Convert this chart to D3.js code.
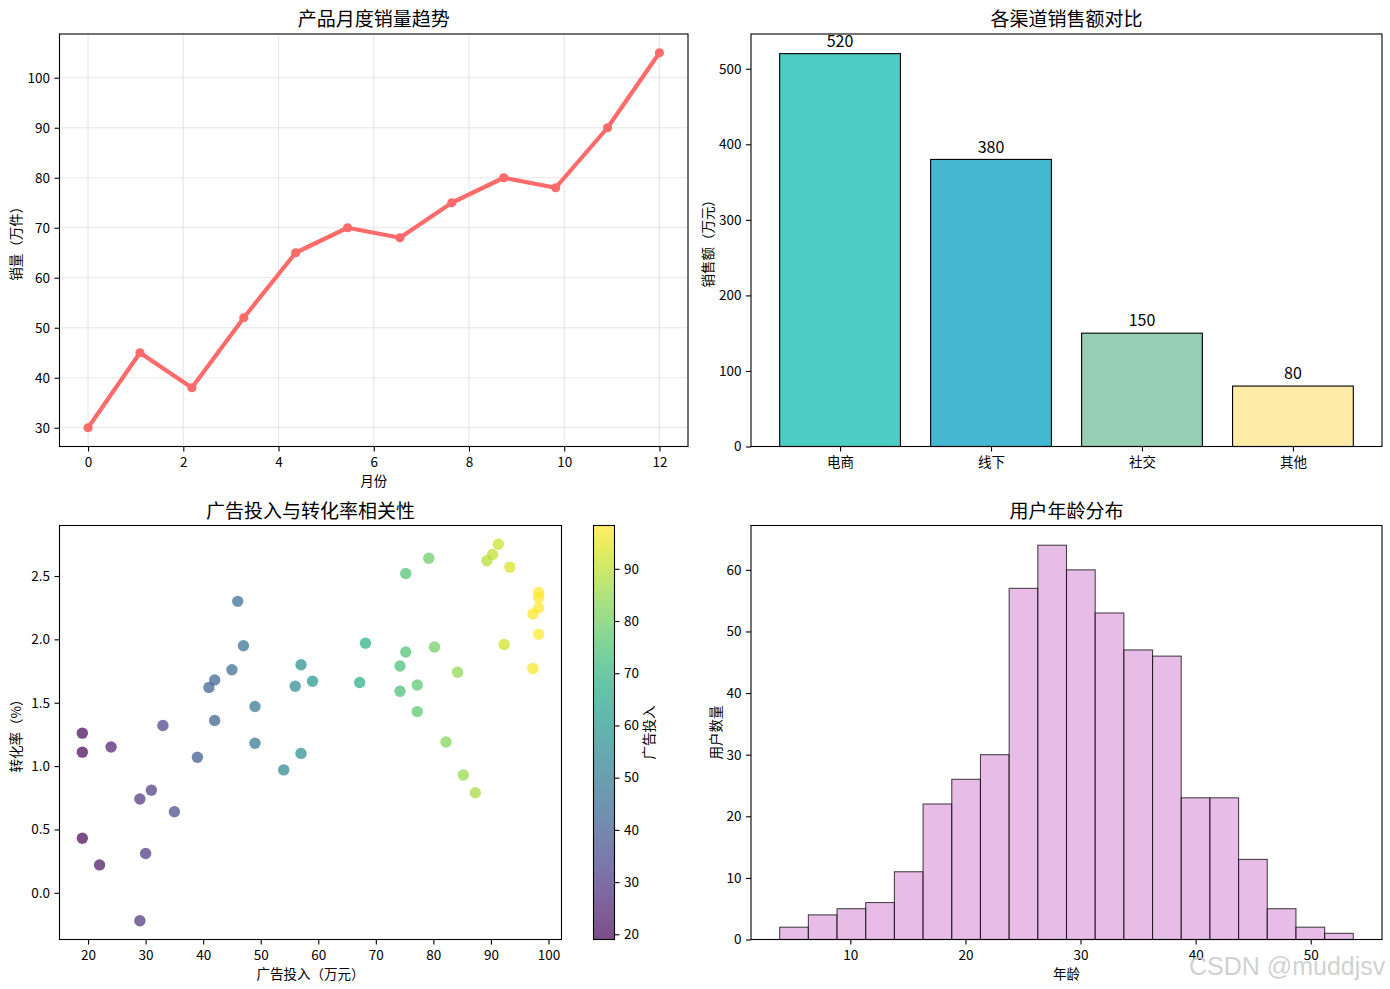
<!DOCTYPE html>
<html>
<head>
<meta charset="utf-8">
<script src="https://cdn.jsdelivr.net/npm/d3@7.9.0/dist/d3.min.js"></script>
<style>
  body { margin: 0; background: #fff; }
  svg text { font-family: 'Noto Sans CJK SC', 'Noto Sans', sans-serif; fill: #000; }
</style>
</head>
<body>
<svg id="fig" width="1390" height="989"></svg>
<script>
// --- monthly sales (top left)
const monthX = [0, 1.09, 2.18, 3.27, 4.36, 5.45, 6.55, 7.64, 8.73, 9.82, 10.91, 12];
const monthSales = [30, 45, 38, 52, 65, 70, 68, 75, 80, 78, 90, 105];
const monthTicks = [0, 2, 4, 6, 8, 10, 12];
const salesTicks = [30, 40, 50, 60, 70, 80, 90, 100];

// --- channel revenue (top right)
const channels = ['电商', '线下', '社交', '其他'];
const channelSales = [520, 380, 150, 80];
const channelColors = ['#4ECDC4', '#45B7D1', '#96CEB4', '#FFEAA7'];
const revenueTicks = [0, 100, 200, 300, 400, 500];

// --- ad spend vs conversion (bottom left)
const adSpend = [46, 47, 45, 42, 41, 57, 56, 59, 49, 42, 33, 19, 19, 24, 49, 39, 57, 54, 31, 29,
                 35, 19, 30, 22, 29, 91.3, 90.3, 89.3, 93.3, 79.2, 75.2, 98.3, 98.3, 98.3, 97.3, 98.3, 92.3, 97.3, 68.2, 75.2,
                 80.2, 74.2, 67.2, 84.2, 77.2, 74.2, 77.2, 82.2, 85.2, 87.3];
const conversion = [2.30, 1.95, 1.76, 1.68, 1.62, 1.80, 1.63, 1.67, 1.47, 1.36, 1.32, 1.26, 1.11, 1.15, 1.18, 1.07, 1.10, 0.97, 0.81, 0.74,
                    0.64, 0.43, 0.31, 0.22, -0.22, 2.75, 2.67, 2.62, 2.57, 2.64, 2.52, 2.37, 2.33, 2.25, 2.20, 2.04, 1.96, 1.77, 1.97, 1.90,
                    1.94, 1.79, 1.66, 1.74, 1.64, 1.59, 1.43, 1.19, 0.93, 0.79];
const adTicks = [20, 30, 40, 50, 60, 70, 80, 90, 100];
const convTicks = [0, 0.5, 1.0, 1.5, 2.0, 2.5];
const cbarTicks = [20, 30, 40, 50, 60, 70, 80, 90];

// --- age histogram (bottom right)
const ageBinStart = 3.86;
const ageBinWidth = 2.492;
const ageCounts = [2, 4, 5, 6, 11, 22, 26, 30, 57, 64, 60, 53, 47, 46, 23, 23, 13, 5, 2, 1];
const ageTicks = [10, 20, 30, 40, 50];
const countTicks = [0, 10, 20, 30, 40, 50, 60];

const svg = d3.select('#fig');
svg.append('rect').attr('width', 1390).attr('height', 989).attr('fill', '#fff');

const TICK = 13.5;

// matplotlib-like 5% padding
function pad(lo, hi, frac = 0.05) {
  const m = (hi - lo) * frac;
  return [lo - m, hi + m];
}

function styleAxis(g) {
  g.select('.domain').remove();
  g.selectAll('.tick line').attr('stroke', '#000').attr('stroke-width', 1.1);
  g.selectAll('.tick text').attr('font-size', TICK).attr('fill', '#000');
}

function drawAxes(box, x, y, opts) {
  const g = svg.append('g');
  g.append('g')
    .attr('transform', `translate(0,${box.bottom})`)
    .call(d3.axisBottom(x).tickValues(opts.xTicks).tickFormat(opts.xFormat || (d => d))
      .tickSize(5).tickSizeOuter(0).tickPadding(5.5))
    .call(styleAxis);
  g.append('g')
    .attr('transform', `translate(${box.left},0)`)
    .call(d3.axisLeft(y).tickValues(opts.yTicks).tickFormat(opts.yFormat || (d => d))
      .tickSize(5).tickSizeOuter(0).tickPadding(4.5))
    .call(styleAxis);
  return g;
}

function frame(box) {
  svg.append('rect')
    .attr('x', box.left).attr('y', box.top)
    .attr('width', box.right - box.left).attr('height', box.bottom - box.top)
    .attr('fill', 'none').attr('stroke', '#000').attr('stroke-width', 1.1);
}

function labels(box, title, xlabel, ylabel, ylabelX) {
  const cx = (box.left + box.right) / 2;
  svg.append('text').attr('x', cx).attr('y', box.top - 8)
    .attr('text-anchor', 'middle').attr('font-size', 19).text(title);
  if (xlabel) {
    svg.append('text').attr('x', cx).attr('y', box.bottom + 39.5)
      .attr('text-anchor', 'middle').attr('font-size', 13.5).text(xlabel);
  }
  if (ylabel) {
    const cy = (box.top + box.bottom) / 2;
    svg.append('text')
      .attr('transform', `translate(${ylabelX},${cy}) rotate(-90)`)
      .attr('text-anchor', 'middle').attr('dy', '0.35em')
      .attr('font-size', 13.5).text(ylabel);
  }
}

// ---------- top left: line ----------
function renderLine() {
  const box = { left: 59.5, right: 688, top: 34, bottom: 446.5 };
  const x = d3.scaleLinear().domain(pad(d3.min(monthX), d3.max(monthX))).range([box.left, box.right]);
  const y = d3.scaleLinear().domain(pad(d3.min(monthSales), d3.max(monthSales))).range([box.bottom, box.top]);

  const grid = svg.append('g').attr('stroke', '#b0b0b0').attr('stroke-opacity', 0.3).attr('stroke-width', 1.1);
  grid.selectAll('.gx').data(monthTicks).join('line')
    .attr('x1', d => x(d)).attr('x2', d => x(d)).attr('y1', box.top).attr('y2', box.bottom);
  grid.selectAll('.gy').data(salesTicks).join('line')
    .attr('y1', d => y(d)).attr('y2', d => y(d)).attr('x1', box.left).attr('x2', box.right);

  const pts = monthX.map((m, i) => [m, monthSales[i]]);
  svg.append('path')
    .attr('d', d3.line().x(d => x(d[0])).y(d => y(d[1]))(pts))
    .attr('fill', 'none').attr('stroke', '#FF6B6B').attr('stroke-width', 4.2)
    .attr('stroke-linejoin', 'round').attr('stroke-linecap', 'round');
  svg.append('g').selectAll('circle').data(pts).join('circle')
    .attr('cx', d => x(d[0])).attr('cy', d => y(d[1])).attr('r', 4.6)
    .attr('fill', '#FF6B6B');

  drawAxes(box, x, y, { xTicks: monthTicks, yTicks: salesTicks });
  frame(box);
  labels(box, '产品月度销量趋势', '月份', '销量（万件）', 16);
}

// ---------- top right: bars ----------
function renderBars() {
  const box = { left: 751, right: 1382, top: 34, bottom: 446.5 };
  const x = d3.scaleLinear().domain(pad(-0.4, channels.length - 1 + 0.4)).range([box.left, box.right]);
  const y = d3.scaleLinear().domain([0, d3.max(channelSales) * 1.05]).range([box.bottom, box.top]);
  const bw = 0.8;

  const g = svg.append('g');
  g.selectAll('rect').data(channelSales).join('rect')
    .attr('x', (d, i) => x(i - bw / 2))
    .attr('width', x(bw) - x(0))
    .attr('y', d => y(d))
    .attr('height', d => y(0) - y(d))
    .attr('fill', (d, i) => channelColors[i])
    .attr('stroke', '#000').attr('stroke-width', 1.1);

  g.selectAll('text').data(channelSales).join('text')
    .attr('x', (d, i) => x(i))
    .attr('y', d => y(d + 5) - 3)
    .attr('text-anchor', 'middle').attr('font-size', 16)
    .text(d => d);

  drawAxes(box, x, y, {
    xTicks: d3.range(channels.length), xFormat: i => channels[i],
    yTicks: revenueTicks
  });
  frame(box);
  labels(box, '各渠道销售额对比', null, '销售额（万元）', 708);
}

// ---------- bottom left: scatter + colorbar ----------
function renderScatter() {
  const box = { left: 59.5, right: 561.5, top: 525.5, bottom: 939.5 };
  const x = d3.scaleLinear().domain(pad(d3.min(adSpend), d3.max(adSpend))).range([box.left, box.right]);
  const y = d3.scaleLinear().domain(pad(d3.min(conversion), d3.max(conversion))).range([box.bottom, box.top]);
  const cExt = d3.extent(adSpend);
  const color = d3.scaleSequential(d3.interpolateViridis).domain(cExt);

  const pts = adSpend.map((a, i) => [a, conversion[i]]);
  svg.append('g').selectAll('circle').data(pts).join('circle')
    .attr('cx', d => x(d[0])).attr('cy', d => y(d[1])).attr('r', 5.7)
    .attr('fill', d => color(d[0])).attr('fill-opacity', 0.7);

  drawAxes(box, x, y, { xTicks: adTicks, yTicks: convTicks, yFormat: d3.format('.1f') });
  frame(box);
  labels(box, '广告投入与转化率相关性', '广告投入（万元）', '转化率（%）', 16);

  // colorbar
  const cb = { left: 593.5, right: 614.5, top: box.top, bottom: box.bottom };
  const grad = svg.append('defs').append('linearGradient')
    .attr('id', 'viridis').attr('x1', 0).attr('y1', 1).attr('x2', 0).attr('y2', 0);
  d3.range(0, 1.0001, 0.05).forEach(t => {
    grad.append('stop').attr('offset', t).attr('stop-color', d3.interpolateViridis(t));
  });
  svg.append('rect')
    .attr('x', cb.left).attr('y', cb.top)
    .attr('width', cb.right - cb.left).attr('height', cb.bottom - cb.top)
    .attr('fill', 'url(#viridis)').attr('fill-opacity', 0.7);
  frame(cb);
  const cy = d3.scaleLinear().domain(cExt).range([cb.bottom, cb.top]);
  svg.append('g')
    .attr('transform', `translate(${cb.right},0)`)
    .call(d3.axisRight(cy).tickValues(cbarTicks).tickSize(5).tickSizeOuter(0).tickPadding(4.5))
    .call(styleAxis);
  svg.append('text')
    .attr('transform', `translate(649,${(cb.top + cb.bottom) / 2}) rotate(-90)`)
    .attr('text-anchor', 'middle').attr('dy', '0.35em')
    .attr('font-size', 13.5).text('广告投入');
}

// ---------- bottom right: histogram ----------
function renderHist() {
  const box = { left: 751, right: 1382, top: 525.5, bottom: 939.5 };
  const bins = ageCounts.map((c, i) => ({
    x0: ageBinStart + i * ageBinWidth,
    x1: ageBinStart + (i + 1) * ageBinWidth,
    n: c
  }));
  const x = d3.scaleLinear().domain(pad(bins[0].x0, bins[bins.length - 1].x1)).range([box.left, box.right]);
  const y = d3.scaleLinear().domain([0, d3.max(ageCounts) * 1.05]).range([box.bottom, box.top]);

  svg.append('g').selectAll('rect').data(bins).join('rect')
    .attr('x', d => x(d.x0)).attr('width', d => x(d.x1) - x(d.x0))
    .attr('y', d => y(d.n)).attr('height', d => y(0) - y(d.n))
    .attr('fill', '#DDA0DD').attr('fill-opacity', 0.7)
    .attr('stroke', '#000').attr('stroke-opacity', 0.7).attr('stroke-width', 1.1);

  drawAxes(box, x, y, { xTicks: ageTicks, yTicks: countTicks });
  frame(box);
  labels(box, '用户年龄分布', '年龄', '用户数量', 716);
}

renderLine();
renderBars();
renderScatter();
renderHist();

// watermark (sits over the histogram tick labels, as in the source image)
svg.append('text')
  .attr('x', 1189).attr('y', 975)
  .style('font-family', 'Liberation Sans, Arial, sans-serif')
  .style('font-size', '25px')
  .style('fill', '#c8c8c8')
  .style('fill-opacity', 0.85)
  .text('CSDN @muddjsv');
</script>
</body>
</html>
